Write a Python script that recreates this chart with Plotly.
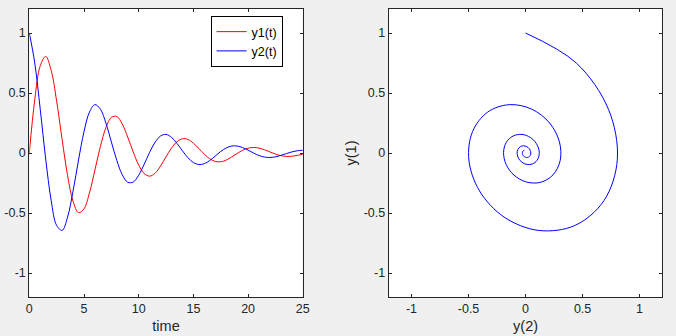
import plotly.graph_objects as go

# Time samples (s)
time = [0.0, 0.5, 1.0, 1.5, 2.0, 2.5, 3.0, 3.5, 4.0, 4.5,
        5.0, 5.5, 6.0, 6.5, 7.0, 7.5, 8.0, 8.5, 9.0, 9.5,
        10.0, 10.5, 11.0, 11.5, 12.0, 12.5, 13.0, 13.5, 14.0, 14.5,
        15.0, 15.5, 16.0, 16.5, 17.0, 17.5, 18.0, 18.5, 19.0, 19.5,
        20.0, 20.5, 21.0, 21.5, 22.0, 22.5, 23.0, 23.5, 24.0, 24.5, 25.0]

# Solution components of the damped oscillator
y1 = [0.0, 0.445, 0.727, 0.805, 0.688, 0.432, 0.113, -0.188, -0.403, -0.497,
      -0.465, -0.332, -0.141, 0.055, 0.211, 0.297, 0.304, 0.241, 0.132, 0.008,
      -0.101, -0.171, -0.193, -0.168, -0.108, -0.032, 0.041, 0.094, 0.119, 0.113,
      0.082, 0.037, -0.010, -0.049, -0.070, -0.073, -0.059, -0.033, -0.004, 0.023,
      0.040, 0.046, 0.041, 0.027, 0.009, -0.009, -0.022, -0.028, -0.027, -0.020, -0.010]

y2 = [1.0, 0.750, 0.364, -0.051, -0.396, -0.604, -0.645, -0.534, -0.317, -0.058,
      0.178, 0.341, 0.403, 0.365, 0.250, 0.093, -0.062, -0.182, -0.244, -0.242,
      -0.185, -0.094, 0.006, 0.090, 0.142, 0.155, 0.130, 0.080, 0.018, -0.039,
      -0.080, -0.096, -0.089, -0.062, -0.025, 0.013, 0.042, 0.058, 0.058, 0.045,
      0.024, 0.000, -0.021, -0.034, -0.037, -0.032, -0.020, -0.005, 0.009, 0.019, 0.023]

time_ticks = [0, 5, 10, 15, 20, 25]
time_tick_text = ["0", "5", "10", "15", "20", "25"]
val_ticks = [-1, -0.5, 0, 0.5, 1]
val_tick_text = ["-1", "-0.5", "0", "0.5", "1"]

RED = "#ff0000"
BLUE = "#0000ff"
AXIS = "#262626"
FONT = "Liberation Sans, Arial, sans-serif"

fig = go.Figure()

fig.add_trace(go.Scatter(x=time, y=y1, mode="lines", name="y1(t)",
                         line=dict(color=RED, width=1, shape="spline"),
                         xaxis="x", yaxis="y"))
fig.add_trace(go.Scatter(x=time, y=y2, mode="lines", name="y2(t)",
                         line=dict(color=BLUE, width=1, shape="spline"),
                         xaxis="x", yaxis="y"))
# Phase-plane trajectory
fig.add_trace(go.Scatter(x=y1, y=y2, mode="lines", showlegend=False,
                         line=dict(color=BLUE, width=1, shape="spline"),
                         xaxis="x2", yaxis="y2"))

W, H = 676, 336


def axis_style(**kw):
    base = dict(showline=True, linecolor=AXIS, linewidth=1, mirror="allticks",
                ticks="inside", ticklen=3, tickwidth=1, tickcolor=AXIS,
                showgrid=False, zeroline=False,
                tickfont=dict(family=FONT, size=12.5, color=AXIS),
                title_font=dict(family=FONT, size=14.5, color=AXIS))
    base.update(kw)
    return base


ydom = [1 - 297 / H, 1 - 9 / H]

fig.update_layout(
    width=W, height=H,
    margin=dict(l=0, r=0, t=0, b=0),
    paper_bgcolor="#f0f0f0",
    plot_bgcolor="white",
    font=dict(family=FONT, color=AXIS),
    xaxis=axis_style(domain=[26.7 / W, 304.3 / W], range=[0, 25],
                     tickvals=time_ticks, ticktext=time_tick_text,
                     title=dict(text="time", standoff=5), anchor="y"),
    yaxis=axis_style(domain=ydom, range=[-1.2, 1.2],
                     tickvals=val_ticks, ticktext=val_tick_text, anchor="x"),
    xaxis2=axis_style(domain=[391.5 / W, 669.3 / W], range=[-1.2, 1.2],
                      tickvals=val_ticks, ticktext=val_tick_text,
                      title=dict(text="y(2)", standoff=5), anchor="y2"),
    yaxis2=axis_style(domain=ydom, range=[-1.2, 1.2],
                      tickvals=val_ticks, ticktext=val_tick_text,
                      title=dict(text="y(1)", standoff=3), anchor="x2"),
    legend=dict(x=210.7 / W, y=1 - 16 / H, xanchor="left", yanchor="top",
                bgcolor="white", bordercolor="#000000", borderwidth=1,
                font=dict(family=FONT, size=12.5, color="#000000"),
                tracegroupgap=0),
    showlegend=True,
)

fig.write_html("out.html")
